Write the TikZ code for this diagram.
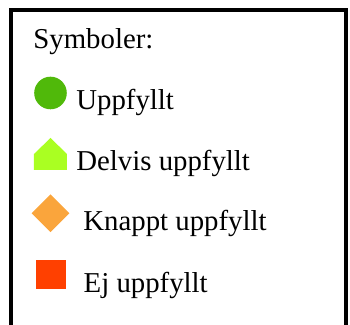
\documentclass[tikz,border=0pt]{standalone}
\usepackage{fontspec}
\setmainfont{Liberation Serif}
\usepackage{xcolor}
\usepackage{tikz}
\usetikzlibrary{
    shapes.geometric
}
\definecolor{uppgreen}{RGB}{80,185,10}
\definecolor{delvislime}{RGB}{170,255,34}
\definecolor{knapporange}{RGB}{250,165,60}
\definecolor{ejred}{RGB}{255,64,0}

\begin{document}
\begin{tikzpicture}[x=0.5pt, y=-0.5pt,
    lbl/.style={anchor=base west, inner sep=0pt, font=\fontsize{14.4}{17}\selectfont},
    sym/.style={inner sep=0pt, outer sep=0pt}]
    \useasboundingbox (0,0) rectangle (350,325);
    \clip (0,0) rectangle (350,325);
    \draw[line width=2pt] (11,340) -- (11,10.5) -- (346.5,10.5) -- (346.5,340);
    \node[lbl] (title) at (33,49) {Symboler:};
    % symboler och texter
    \node[sym, circle, fill=uppgreen, minimum size=16.3pt] (s1) at (50.5,93) {};
    \node[lbl] (t1) at (76,109.3) {Uppfyllt};
    \fill[delvislime] (34,170) -- (34,154) -- (50.5,138) -- (67,154) -- (67,170) -- cycle;
    \node[lbl] (t2) at (76,170.5) {Delvis uppfyllt};
    \node[sym, diamond, fill=knapporange, minimum size=18.8pt] (s3) at (50.5,213.3) {};
    \node[lbl] (t3) at (83,231) {Knappt uppfyllt};
    \node[sym, rectangle, fill=ejred, minimum size=14.8pt] (s4) at (50.8,274.4) {};
    \node[lbl] (t4) at (83.3,292.7) {Ej uppfyllt};
\end{tikzpicture}
\end{document}
